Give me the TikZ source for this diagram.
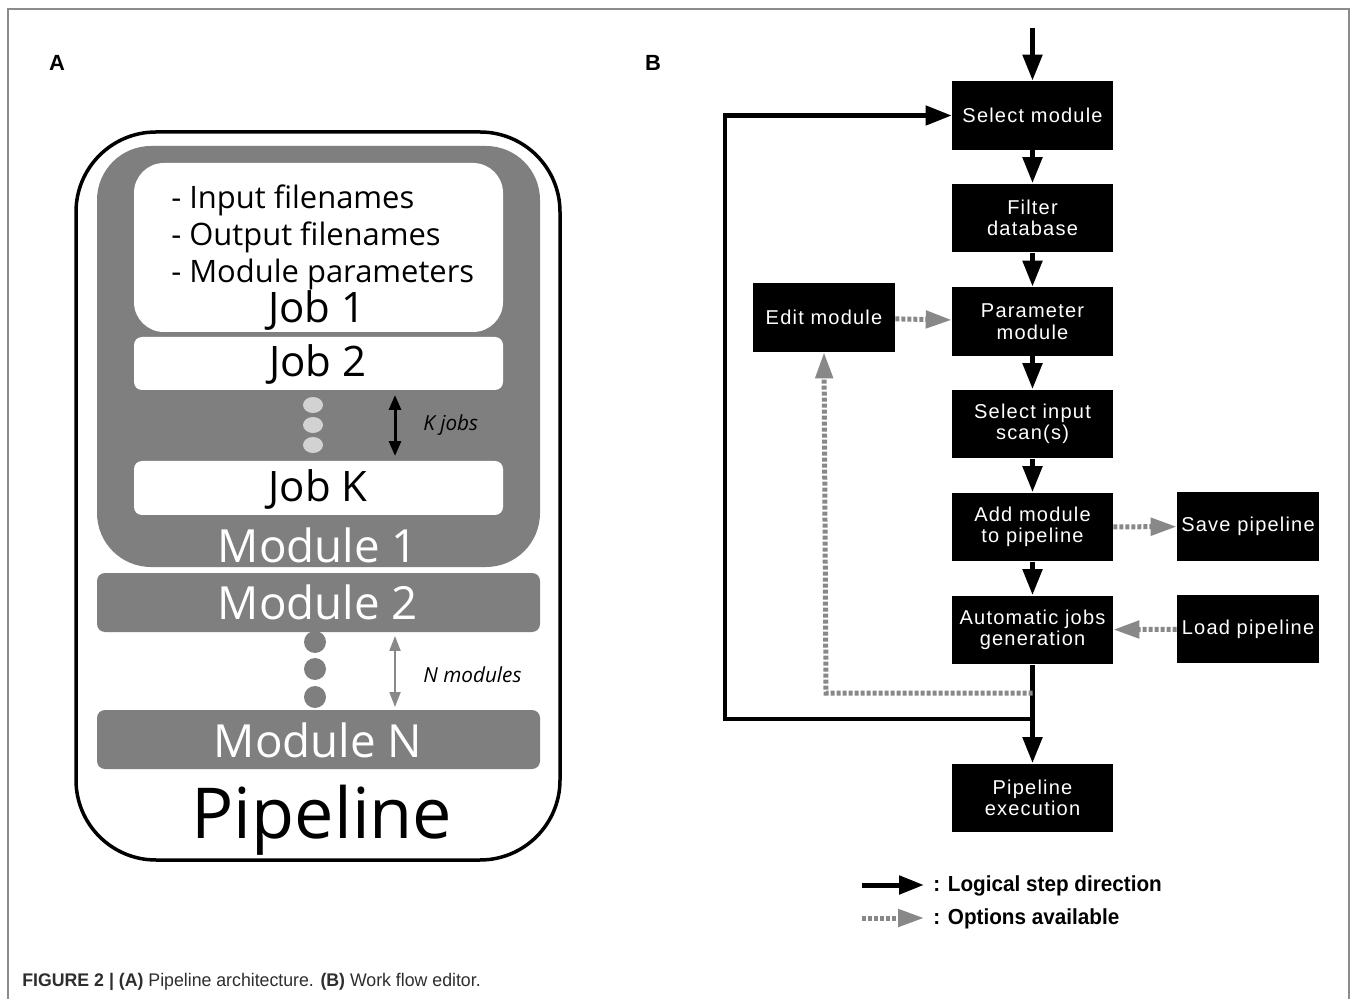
\documentclass[tikz,border=0pt]{standalone}
\usepackage{fontspec}
\setmainfont{Liberation Sans}
\newfontfamily\archfont{Open Sans}
\newfontfamily\boxfont[LetterSpace=6]{Liberation Sans}
\newfontfamily\legfont[FakeStretch=0.95]{Liberation Sans}
\newfontfamily\capfont[FakeStretch=0.97]{Liberation Sans}
\usetikzlibrary{arrows.meta, positioning}
\definecolor{modgray}{HTML}{7F7F7F}
\definecolor{dotgray}{HTML}{D2D2D2}
\definecolor{optgray}{HTML}{888888}
\definecolor{framegray}{HTML}{8C8C8C}
\definecolor{capgray}{HTML}{2E2E2E}
\tikzset{
  stepbox/.style={rectangle, fill=black, text=white, minimum width=3.22cm, minimum height=1.38cm, inner sep=0pt, align=center, font=\boxfont\fontsize{11.4}{12.2}\selectfont},
  sidebox/.style={stepbox, minimum width=2.84cm},
  flow/.style={line width=0.1cm, -{Triangle[length=0.52cm, width=0.38cm]}},
  option/.style={line width=0.1cm, draw=optgray, dash pattern=on 0.08cm off 0.04cm, -{Triangle[length=0.52cm, width=0.34cm]}},
  listtext/.style={anchor=base west, inner sep=0pt, font=\archfont\fontsize{17.6}{20}\selectfont},
  jobtext/.style={anchor=base, inner sep=0pt, font=\archfont\fontsize{23.9}{26}\selectfont},
  modtext/.style={anchor=base, inner sep=0pt, text=white, font=\archfont\fontsize{26}{28}\selectfont},
  counttext/.style={anchor=west, inner sep=0pt, font=\archfont\itshape\fontsize{11.8}{13}\selectfont},
  legtext/.style={anchor=base west, inner sep=0pt, font=\legfont\bfseries\fontsize{12.4}{14}\selectfont},
  panel/.style={inner sep=0pt, font=\bfseries\fontsize{12.5}{14}\selectfont}
}

\begin{document}
\begin{tikzpicture}[x=0.02cm, y=-0.02cm]
  \useasboundingbox (0,0) rectangle (1358,999);
  \fill[white] (0,0) rectangle (1358,999);

  % Le cadre
  \draw[framegray, line width=0.03cm] (8,1001) -- (8,9) -- (1349,9) -- (1349,1001);
  \node[panel] (lblA) at (57,63) {A};
  \node[panel] (lblB) at (653,63) {B};

  % Partie A : les boîtes
  \draw[line width=0.07cm, rounded corners=1.6cm] (76,132) rectangle (560,860);
  \fill[modgray, rounded corners=1.08cm] (97,146) rectangle (540,567);
  \fill[white, rounded corners=0.6cm] (134,163) rectangle (503,332);
  \fill[white, rounded corners=0.16cm] (134,337) rectangle (503,390);
  \fill[white, rounded corners=0.16cm] (134,461) rectangle (503,515);
  \fill[modgray, rounded corners=0.16cm] (97,573) rectangle (540,632);
  \fill[modgray, rounded corners=0.16cm] (97,710) rectangle (540,769);
  \foreach \y in {405,425,445}
    \fill[dotgray] (313,\y) ellipse [x radius=0.2cm, y radius=0.16cm];
  \foreach \y in {642,669,697}
    \fill[modgray] (315,\y) circle [radius=0.22cm];

  % Partie A : les textes
  \node[listtext] (inp) at (171,209) {- Input filenames};
  \node[listtext] (outp) at (171,246) {- Output filenames};
  \node[listtext] (par) at (171,283) {- Module parameters};
  \node[jobtext] (job1) at (317,323) {Job 1};
  \node[jobtext] (job2) at (318,377) {Job 2};
  \node[jobtext] (jobk) at (318,501) {Job K};
  \node[modtext] (mod1) at (318,562) {Module 1};
  \node[modtext] (mod2) at (318,619) {Module 2};
  \node[modtext] (modn) at (318,757) {Module N};
  \node[anchor=base, inner sep=0pt, font=\archfont\fontsize{40}{44}\selectfont] (pipe) at (322,838) {Pipeline};

  % Partie A : les flèches
  \coordinate (kt) at (395,395);
  \coordinate (kb) at (395,456);
  \draw[line width=0.06cm, {Triangle[length=0.3cm, width=0.24cm]}-{Triangle[length=0.3cm, width=0.24cm]}] (kt) -- (kb);
  \node[counttext] (kjobs) at (423,425) {K jobs};
  \coordinate (nt) at (395,636);
  \coordinate (nb) at (395,707);
  \draw[optgray, line width=0.04cm, {Triangle[length=0.3cm, width=0.22cm]}-{Triangle[length=0.3cm, width=0.22cm]}] (nt) -- (nb);
  \node[counttext] (nmods) at (423,675) {N modules};

  % Partie B : les nœuds
  \node[stepbox] (sel) at (1032.5,115.5) {Select module};
  \node[stepbox] (filt) at (1032.5,218) {Filter\\database};
  \node[stepbox] (param) at (1032.5,321.5) {Parameter\\module};
  \node[stepbox] (scan) at (1032.5,424) {Select input\\scan(s)};
  \node[stepbox] (add) at (1032.5,527) {Add module\\to pipeline};
  \node[stepbox] (auto) at (1032.5,630) {Automatic jobs\\generation};
  \node[stepbox] (exec) at (1032.5,798) {Pipeline\\execution};
  \node[sidebox] (edit) at (824,317.5) {Edit module};
  \node[sidebox] (save) at (1248,526.5) {Save pipeline};
  \node[sidebox] (load) at (1248,629) {Load pipeline};

  % Partie B : les arêtes
  \coordinate (start) at (1032.5,28);
  \coordinate (loop) at (725,719);
  \coordinate (back) at (826,693);
  \draw[flow] (start) -- (sel);
  \draw[flow] (sel) -- (filt);
  \draw[flow] (filt) -- (param);
  \draw[flow] (param) -- (scan);
  \draw[flow] (scan) -- (add);
  \draw[flow] (add) -- (auto);
  \draw[flow] (auto) -- (exec);
  \draw[line width=0.09cm, -{Triangle[length=0.52cm, width=0.38cm]}] (auto.south) |- (loop) |- (sel.west);
  \draw[option] (edit) -- (param);
  \draw[option] (add) -- (save);
  \draw[option] (load) -- (auto);
  \draw[option] (auto.south |- back) -- (back) -- (edit.south);

  % La légende
  \coordinate (la) at (862,885);
  \coordinate (lb) at (924,885);
  \coordinate (lc) at (862,918);
  \coordinate (ld) at (924,918);
  \draw[line width=0.1cm, -{Triangle[length=0.5cm, width=0.36cm]}] (la) -- (lb);
  \draw[option] (lc) -- (ld);
  \node[legtext] (leg1) at (933,891) {: Logical step direction};
  \node[legtext] (leg2) at (933,924) {: Options available};

  % La légende de la figure
  \node[anchor=base west, inner sep=0pt, text=capgray, font=\capfont\fontsize{10.4}{12}\selectfont] (caption) at (22,986) {\textbf{FIGURE 2 | (A)} Pipeline architecture. \textbf{(B)} Work flow editor.};
\end{tikzpicture}
\end{document}
